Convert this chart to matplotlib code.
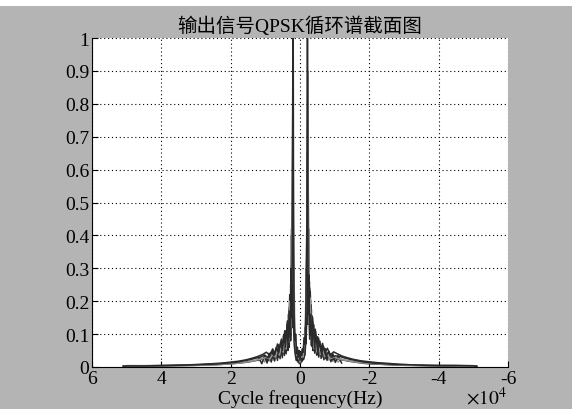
import numpy as np
import matplotlib
matplotlib.use("Agg")
import matplotlib.pyplot as plt
from matplotlib.patches import Rectangle

plt.rcParams['font.family'] = ['Liberation Serif', 'Noto Sans CJK SC']
plt.rcParams['mathtext.fontset'] = 'stix'
plt.rcParams['axes.unicode_minus'] = False

# cycle frequency grids (Hz), positive half; negative half uses the same offsets
x_a = [51000, 46000, 41000, 36000, 31000, 27000, 24000, 21000, 18500, 16500,
       14500, 13000, 11500, 10200, 9200, 8300, 7500, 6800, 6200, 5600,
       5100, 4600, 4200, 3800, 3450, 3100, 2800, 2550, 2350, 2150,
       2000, 1850, 1650, 1450, 1250, 1000, 750, 500, 250, 0]
x_b = [50000, 44000, 38500, 33500, 29000, 25500, 22500, 19800, 17500, 15500,
       13700, 12200, 10800, 9700, 8700, 7900, 7100, 6500, 5900, 5350,
       4850, 4400, 4000, 3650, 3300, 2950, 2700, 2450, 2250, 2080,
       1950, 1750, 1550, 1350, 1120, 880, 620, 380, 120, 0]
x_c = [12000, 11000, 10200, 9500, 8900, 8300, 7800, 7300, 6900, 6500,
       6100, 5750, 5400, 5100, 4800, 4500, 4250, 4000, 3750, 3500,
       3300, 3100, 2900, 2700, 2500, 2300, 2100, 1900, 1700, 1500,
       1300, 1100, 900, 700, 500, 300, 100]

# normalised spectrum slices
k1_pos = [0.003, 0.003, 0.004, 0.005, 0.006, 0.008, 0.009, 0.012, 0.014, 0.018,
          0.022, 0.026, 0.030, 0.036, 0.028, 0.045, 0.035, 0.060, 0.042, 0.075,
          0.050, 0.095, 0.060, 0.120, 0.070, 0.170, 0.090, 0.300, 0.150, 0.550,
          1.300, 0.350, 0.120, 0.080, 0.100, 0.040, 0.060, 0.030, 0.050, 0.020]
k1_neg = [0.003, 0.004, 0.004, 0.005, 0.007, 0.008, 0.010, 0.012, 0.015, 0.019,
          0.023, 0.027, 0.032, 0.034, 0.030, 0.047, 0.033, 0.062, 0.040, 0.078,
          0.048, 0.098, 0.058, 0.125, 0.068, 0.160, 0.095, 0.280, 0.160, 1.300,
          0.450, 0.330, 0.130, 0.070, 0.090, 0.045, 0.055, 0.035, 0.045, 0.020]

g1_pos = [0.002, 0.003, 0.004, 0.004, 0.005, 0.007, 0.008, 0.010, 0.012, 0.015,
          0.018, 0.022, 0.025, 0.030, 0.024, 0.038, 0.030, 0.050, 0.036, 0.065,
          0.045, 0.085, 0.055, 0.110, 0.075, 0.200, 0.120, 0.420, 0.250, 0.900,
          0.600, 0.300, 0.150, 0.080, 0.060, 0.035, 0.045, 0.025, 0.035, 0.015]
g1_neg = [0.002, 0.003, 0.004, 0.005, 0.006, 0.007, 0.009, 0.011, 0.013, 0.016,
          0.019, 0.022, 0.026, 0.031, 0.025, 0.040, 0.031, 0.052, 0.038, 0.068,
          0.046, 0.088, 0.056, 0.115, 0.080, 0.210, 0.130, 0.400, 0.900, 0.650,
          0.330, 0.250, 0.140, 0.075, 0.055, 0.030, 0.040, 0.030, 0.030, 0.015]

k2_pos = [0.004, 0.004, 0.005, 0.006, 0.008, 0.010, 0.012, 0.015, 0.018, 0.022,
          0.027, 0.032, 0.038, 0.045, 0.035, 0.055, 0.040, 0.070, 0.050, 0.085,
          0.060, 0.110, 0.080, 0.140, 0.100, 0.220, 0.160, 0.400, 0.250, 0.800,
          0.450, 0.200, 0.100, 0.060, 0.070, 0.030, 0.050, 0.020, 0.040, 0.010]
k2_neg = [0.004, 0.005, 0.005, 0.006, 0.008, 0.011, 0.013, 0.016, 0.019, 0.023,
          0.028, 0.033, 0.040, 0.046, 0.036, 0.057, 0.042, 0.072, 0.052, 0.088,
          0.062, 0.115, 0.085, 0.150, 0.105, 0.230, 0.170, 0.380, 0.780, 0.420,
          0.260, 0.190, 0.110, 0.065, 0.075, 0.035, 0.045, 0.025, 0.035, 0.010]

k3_pos = [0.002, 0.002, 0.003, 0.004, 0.005, 0.006, 0.007, 0.009, 0.011, 0.013,
          0.016, 0.019, 0.022, 0.026, 0.020, 0.032, 0.025, 0.042, 0.030, 0.055,
          0.035, 0.070, 0.045, 0.090, 0.060, 0.120, 0.080, 0.180, 0.120, 0.250,
          0.180, 0.120, 0.070, 0.045, 0.030, 0.020, 0.025, 0.015, 0.020, 0.010]
k3_neg = [0.002, 0.003, 0.003, 0.004, 0.005, 0.006, 0.008, 0.009, 0.011, 0.014,
          0.017, 0.020, 0.023, 0.027, 0.021, 0.034, 0.026, 0.044, 0.031, 0.058,
          0.037, 0.073, 0.047, 0.095, 0.062, 0.125, 0.085, 0.190, 0.260, 0.130,
          0.170, 0.110, 0.075, 0.040, 0.032, 0.022, 0.024, 0.016, 0.018, 0.010]

k4_pos = [0.030, 0.010, 0.036, 0.012, 0.042, 0.015, 0.050, 0.018, 0.058, 0.020,
          0.068, 0.025, 0.080, 0.028, 0.095, 0.035, 0.110, 0.040, 0.130, 0.050,
          0.160, 0.060, 0.200, 0.080, 0.280, 0.120, 0.380, 0.180, 0.140, 0.060,
          0.090, 0.030, 0.060, 0.020, 0.045, 0.015, 0.035]
k4_neg = [0.012, 0.034, 0.014, 0.040, 0.016, 0.048, 0.020, 0.056, 0.022, 0.066,
          0.026, 0.078, 0.030, 0.092, 0.036, 0.108, 0.042, 0.128, 0.050, 0.155,
          0.065, 0.190, 0.085, 0.260, 0.130, 0.360, 0.190, 0.300, 0.070, 0.120,
          0.035, 0.080, 0.025, 0.055, 0.018, 0.040, 0.030]

g2_pos = [0.020, 0.028, 0.015, 0.032, 0.018, 0.040, 0.020, 0.046, 0.025, 0.055,
          0.030, 0.065, 0.035, 0.075, 0.045, 0.090, 0.050, 0.110, 0.060, 0.140,
          0.080, 0.180, 0.100, 0.250, 0.150, 0.450, 0.700, 0.250, 0.100, 0.050,
          0.040, 0.020, 0.035, 0.015, 0.030, 0.010, 0.025]
g2_neg = [0.025, 0.015, 0.030, 0.017, 0.038, 0.021, 0.044, 0.024, 0.052, 0.029,
          0.062, 0.034, 0.072, 0.042, 0.086, 0.048, 0.105, 0.058, 0.135, 0.075,
          0.175, 0.095, 0.240, 0.140, 0.420, 0.250, 0.650, 0.300, 0.120, 0.060,
          0.045, 0.025, 0.030, 0.020, 0.025, 0.012, 0.020]

xticks = [6, 4, 2, 0, -2, -4, -6]
yticks = [0, 0.1, 0.2, 0.3, 0.4, 0.5, 0.6, 0.7, 0.8, 0.9, 1]
ylabels = ["0", "0.1", "0.2", "0.3", "0.4", "0.5", "0.6", "0.7", "0.8", "0.9", "1"]


def full(xs, pos, neg):
    xs = np.array(xs, dtype=float)
    x = np.concatenate([xs, -xs[::-1]])
    y = np.concatenate([pos, neg[::-1]])
    return x, y


fig = plt.figure(figsize=(5.72, 4.10), dpi=100, facecolor='#b4b4b4')
fig.patches.append(Rectangle((0, 1 - 7 / 410), 1, 7 / 410, transform=fig.transFigure,
                             facecolor='white', edgecolor='none', zorder=-1))
ax = fig.add_axes([92 / 572, 42 / 410, 416 / 572, 329 / 410])

dark = '#2a2a2a'
gray = '#939393'
for xs, pos, neg, c in [(x_c, g2_pos, g2_neg, gray),
                        (x_b, k2_pos, k2_neg, dark),
                        (x_a, k3_pos, k3_neg, dark),
                        (x_c, k4_pos, k4_neg, dark),
                        (x_b, g1_pos, g1_neg, gray),
                        (x_a, k1_pos, k1_neg, dark)]:
    x, y = full(xs, pos, neg)
    ax.plot(x, y, color=c, lw=1.1)

ax.set_xlim(60000, -60000)
ax.set_ylim(0, 1)
ax.set_xticks([t * 1e4 for t in xticks])
ax.set_xticklabels([str(t) for t in xticks])
ax.set_yticks(yticks)
ax.set_yticklabels(ylabels)
ax.tick_params(direction='in', length=4, labelsize=14, colors='black', pad=2)
ax.spines['top'].set_visible(False)
ax.spines['right'].set_visible(False)
ax.grid(True, color='black', linestyle=(0, (1, 2.5)), linewidth=0.8)
ax.set_axisbelow(True)

ax.set_title("输出信号QPSK循环谱截面图", fontsize=14, pad=5)
ax.set_xlabel("Cycle frequency(Hz)", fontsize=14, labelpad=2)
fig.text(486 / 572, 1 - 398 / 410, r"$\times10^4$", fontsize=14, ha='center', va='center')

fig.savefig("out.png", dpi=100, facecolor=fig.get_facecolor())
